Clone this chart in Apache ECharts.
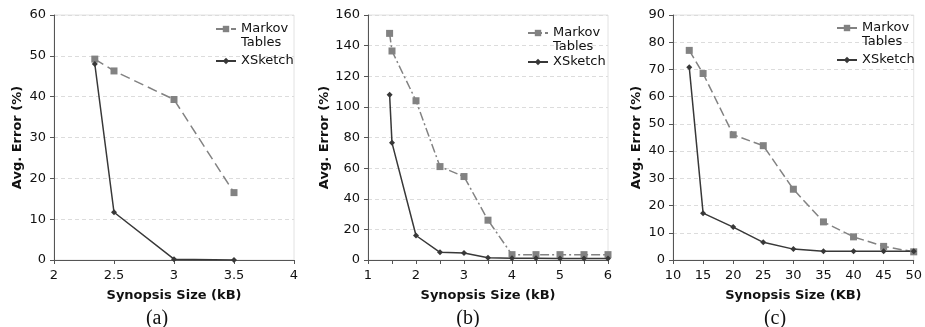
<!DOCTYPE html>
<html>
<head>
<meta charset="utf-8">
<script src="https://cdn.jsdelivr.net/npm/echarts@6/dist/echarts.min.js"></script>
<style>
  html, body { margin: 0; padding: 0; background: #fff; }
  #chart { width: 925px; height: 327px; }
</style>
</head>
<body>
<div id="chart"></div>
<script>
// panel (a)
const sizesA = [2.34, 2.5, 3, 3.5]
const markovA = [49.2, 46.3, 39.3, 16.5]
const xsketchA = [48, 11.7, 0.2, 0]
// panel (b)
const sizesB = [1.45, 1.5, 2, 2.5, 3, 3.5, 4, 4.5, 5, 5.5, 6]
const markovB = [148, 136.5, 104, 61, 54.5, 26, 3.5, 3.5, 3.5, 3.5, 3.5]
const xsketchB = [108, 76.5, 16, 5, 4.5, 1.5, 1.2, 1.2, 1, 1, 1]
// panel (c)
const sizesC = [12.7, 15, 20, 25, 30, 35, 40, 45, 50]
const markovC = [77, 68.5, 46, 42, 26, 14, 8.5, 5, 3]
const xsketchC = [70.8, 17.2, 12.1, 6.5, 4, 3.2, 3.2, 3.2, 3.2]

const captions = ['(a)', '(b)', '(c)']
const xNames = ['Synopsis Size (kB)', 'Synopsis Size (kB)', 'Synopsis Size (KB)']

const font = 'DejaVu Sans'
const markovColor = '#828282'
const xsketchColor = '#383838'

const pair = (xs, ys) => xs.map((x, i) => [x, ys[i]])

const grids = [
  { left: 54, width: 240, top: 15, height: 245 },
  { left: 368, width: 240, top: 15, height: 245 },
  { left: 673, width: 245, top: 15, height: 245 },
]
const xRanges = [[2, 4, 0.5], [1, 6, 0.5], [10, 50, 5]]
const yRanges = [[0, 60, 10], [0, 160, 20], [0, 90, 10]]
const markovDash = [[10, 5], [9, 3, 2, 3], [9, 4]]
const legendPos = [[215, 8, 4], [527, 12, 1], [836, 7, 4]]
const captionX = [152, 463, 770]

const option = {
  animation: false,
  backgroundColor: '#fff',
  textStyle: { fontFamily: font },
  grid: grids.map(g => ({ ...g, show: true, borderColor: '#e2e2e2', borderWidth: 1 })),
  title: captions.map((c, i) => ({
    text: c,
    left: captionX[i],
    top: 304,
    textAlign: 'center',
    textStyle: { fontFamily: 'Liberation Serif', fontSize: 20, fontWeight: 'normal', color: '#111' },
  })),
  legend: legendPos.map((p, i) => ({
    orient: 'vertical',
    left: p[0],
    top: p[1],
    padding: 0,
    itemGap: p[2],
    itemWidth: 20,
    itemHeight: 8,
    data: [`Markov Tables ${i}`, `XSketch ${i}`],
    formatter: n => n.startsWith('Markov') ? ' \nMarkov\nTables' : 'XSketch',
    textStyle: { fontFamily: font, fontSize: 13, color: '#111', lineHeight: 14 },
  })),
  xAxis: xRanges.map((r, i) => ({
    type: 'value',
    gridIndex: i,
    min: r[0],
    max: r[1],
    interval: r[2],
    name: xNames[i],
    nameLocation: 'middle',
    nameGap: 29,
    nameTextStyle: { fontFamily: font, fontWeight: 'bold', fontSize: 13, color: '#111' },
    axisLine: { lineStyle: { color: '#555' } },
    axisTick: { show: true, length: 4, lineStyle: { color: '#555' } },
    axisLabel: {
      fontSize: 13,
      color: '#111',
      margin: 9,
      formatter: v => (i === 1 && v % 1 !== 0) ? '' : String(v),
    },
    splitLine: { show: false },
  })),
  yAxis: yRanges.map((r, i) => ({
    type: 'value',
    gridIndex: i,
    min: r[0],
    max: r[1],
    interval: r[2],
    name: 'Avg. Error (%)',
    nameLocation: 'middle',
    nameGap: 30,
    nameTextStyle: { fontFamily: font, fontWeight: 'bold', fontSize: 13, color: '#111' },
    axisLine: { show: true, lineStyle: { color: '#555' } },
    axisTick: { show: true, length: 4, lineStyle: { color: '#555' } },
    axisLabel: { fontSize: 13, color: '#111', margin: 8 },
    splitLine: { show: true, lineStyle: { color: '#dcdcdc', type: [4, 3] } },
  })),
  series: [],
}

const panels = [[sizesA, markovA, xsketchA], [sizesB, markovB, xsketchB], [sizesC, markovC, xsketchC]]
panels.forEach(([xs, mk, xk], i) => {
  option.series.push({
    name: `Markov Tables ${i}`,
    type: 'line',
    xAxisIndex: i,
    yAxisIndex: i,
    data: pair(xs, mk),
    symbol: 'rect',
    symbolSize: 7,
    color: markovColor,
    itemStyle: { color: markovColor },
    lineStyle: { color: markovColor, width: 1.5, type: markovDash[i] },
  })
  option.series.push({
    name: `XSketch ${i}`,
    type: 'line',
    xAxisIndex: i,
    yAxisIndex: i,
    data: pair(xs, xk),
    symbol: 'diamond',
    symbolSize: 6,
    color: xsketchColor,
    itemStyle: { color: xsketchColor },
    lineStyle: { color: xsketchColor, width: 1.5 },
  })
})

const chart = echarts.init(document.getElementById('chart'))
chart.setOption(option)
</script>
</body>
</html>
